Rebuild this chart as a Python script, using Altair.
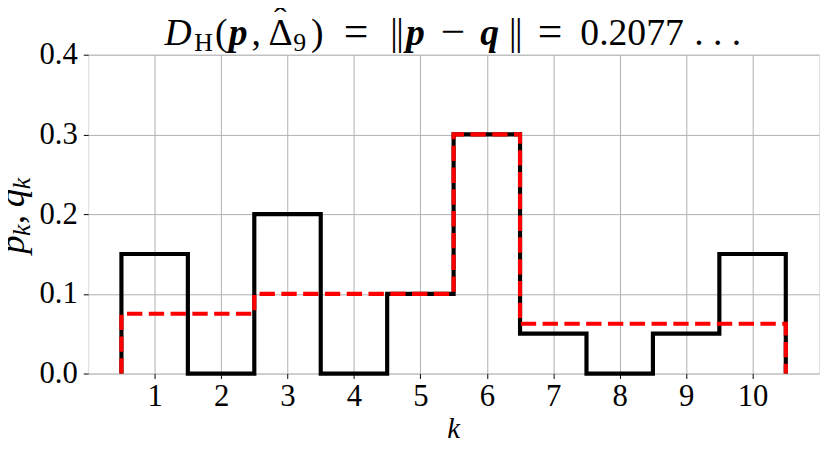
import altair as alt
import pandas as pd

# ---- data ----
k = list(range(1, 11))
p = [0.15, 0.0, 0.2, 0.0, 0.1, 0.3, 0.05, 0.0, 0.05, 0.15]
q = [0.075, 0.075, 0.1, 0.1, 0.1, 0.3, 0.0625, 0.0625, 0.0625, 0.0625]
x_ticks = k
y_ticks = [0.0, 0.1, 0.2, 0.3, 0.4]

FONT = "Liberation Serif, DejaVu Serif, serif"
W, H = 738, 322
OX, OY = 89, 53  # plot origin on the page


def step_frame(vals):
    xs = [k[0] - 0.5] + [kk - 0.5 for kk in k] + [k[-1] + 0.5, k[-1] + 0.5]
    ys = [0.0] + list(vals) + [vals[-1], 0.0]
    return pd.DataFrame({"x": xs, "y": ys, "i": list(range(len(xs)))})


xscale = alt.Scale(domain=[0, 11], nice=False, zero=False)
yscale = alt.Scale(domain=[0, 0.4], nice=False, zero=False)

xaxis = alt.Axis(values=x_ticks, format="d", title=None, grid=True, gridColor="#b0b0b0",
                 gridWidth=1, domain=False, tickColor="black", tickSize=5, tickWidth=1,
                 labelFont=FONT, labelFontSize=31, labelColor="black", labelPadding=3,
                 labelFlush=False)
yaxis = alt.Axis(values=y_ticks, format=".1f", title=None, grid=True, gridColor="#b0b0b0",
                 gridWidth=1, domain=False, tickColor="black", tickSize=5, tickWidth=1,
                 labelFont=FONT, labelFontSize=31, labelColor="black", labelPadding=6,
                 labelFlush=False)

black = alt.Chart(step_frame(p)).mark_line(
    interpolate="step-after", color="black", strokeWidth=4.2, strokeJoin="miter"
).encode(
    x=alt.X("x:Q", scale=xscale, axis=xaxis),
    y=alt.Y("y:Q", scale=yscale, axis=yaxis),
    order=alt.Order("i:Q"),
)

red = alt.Chart(step_frame(q)).mark_line(
    interpolate="step-after", color="#ff0000", strokeWidth=4.2, strokeDash=[15.5, 6.5],
    strokeJoin="miter"
).encode(
    x=alt.X("x:Q", scale=xscale),
    y=alt.Y("y:Q", scale=yscale),
    order=alt.Order("i:Q"),
)

one = pd.DataFrame({"a": [0]})


def txt(s, px, py, size, style="normal", weight="normal", angle=0, align="left"):
    return alt.Chart(one).mark_text(
        text=s, font=FONT, fontSize=size, fontStyle=style, fontWeight=weight,
        angle=angle, align=align, baseline="alphabetic", color="black"
    ).encode(x=alt.value(px - OX), y=alt.value(py - OY))


TS, SS = 38, 26
TB, SB = 43, 49
title = [
    txt("D", 166, TB, TS, style="italic"),
    txt("H", 196, SB, SS),
    txt("(", 217, TB, TS),
    txt("p", 231, TB, TS, style="italic", weight="bold"),
    txt(",", 254, TB, TS),
    txt("Δ", 271, TB, TS),
    txt("ˆ", 283, 31, TS, align="center"),
    txt("9", 296, SB, SS),
    txt(")", 314, TB, TS),
    txt("=", 347, TB + 1.5, 44),
    txt("|", 394, TB, TS),
    txt("|", 400, TB, TS),
    txt("p", 410, TB, TS, style="italic", weight="bold"),
    txt("−", 445, TB + 1.5, 44),
    txt("q", 485, TB, TS, style="italic", weight="bold"),
    txt("|", 514, TB, TS),
    txt("|", 520, TB, TS),
    txt("=", 543, TB + 1.5, 44),
    txt("0.2077", 586, TB, TS),
    txt(". . .", 701, TB, TS),
]

YS, YSS = 37, 26
YB, YSB = 24, 30
ylab = [
    txt("p", YB, 254, YS, style="italic", angle=270),
    txt("k", YSB, 236, YSS, style="italic", angle=270),
    txt(",", YB, 224, YS, angle=270),
    txt("q", YB, 207, YS, style="italic", angle=270),
    txt("k", YSB, 189, YSS, style="italic", angle=270),
]

xlab = [txt("k", 458, 440, 29, style="italic", align="center")]

chart = alt.layer(black, red, *title, *ylab, *xlab).properties(
    width=W, height=H,
    padding={"left": 81, "top": 45, "right": 1, "bottom": 70},
    autosize=alt.AutoSizeParams(type="none"),
).configure_view(stroke="black", strokeWidth=1.1).configure(background="white")

chart.save("out.html", embed_options={"renderer": "svg", "actions": False})
